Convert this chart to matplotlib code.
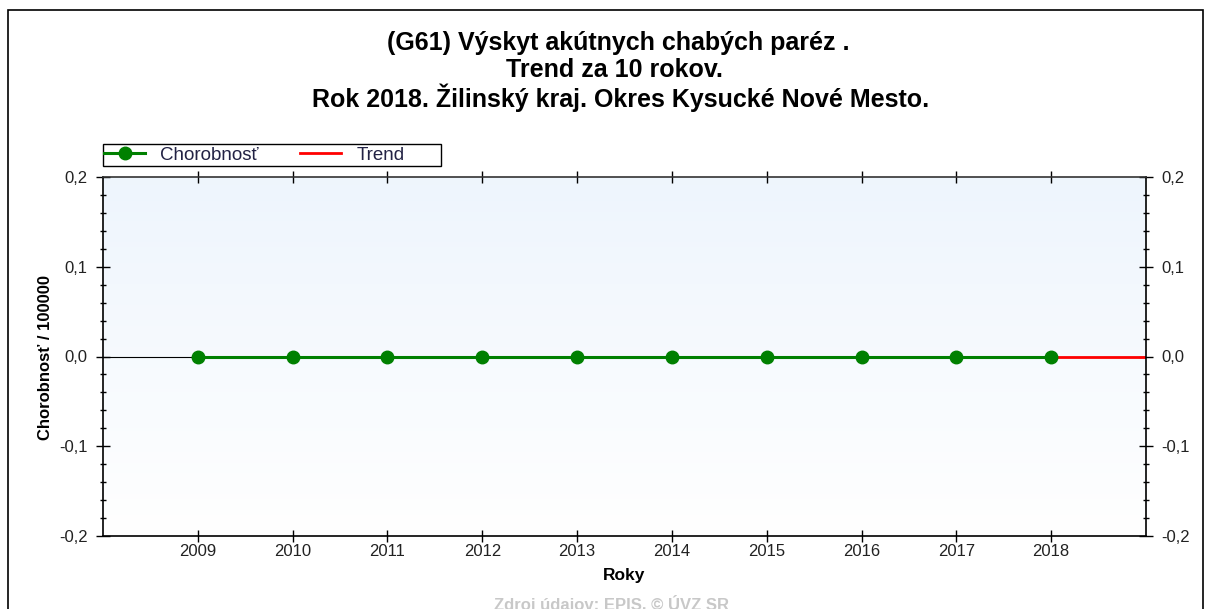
import matplotlib.pyplot as plt
import numpy as np
from matplotlib.patches import Rectangle
from matplotlib.ticker import MultipleLocator, FixedLocator

plt.rcParams['font.family'] = ['Liberation Sans', 'DejaVu Sans']

roky = [2009, 2010, 2011, 2012, 2013, 2014, 2015, 2016, 2017, 2018]
chorobnost = [0, 0, 0, 0, 0, 0, 0, 0, 0, 0]
trend_roky = [2009, 2019]
trend = [0, 0]
y_ticks = [-0.2, -0.1, 0.0, 0.1, 0.2]
y_labels = ['-0,2', '-0,1', '0,0', '0,1', '0,2']

fig = plt.figure(figsize=(12.08, 6.09), dpi=100)
W, H = 1208, 609
ax = fig.add_axes([103 / W, 1 - 536 / H, (1146 - 103) / W, (536 - 177) / H])

# gradient background, light blue at top fading to white
grad = np.linspace(0, 1, 256).reshape(-1, 1)
top = np.array([0.933, 0.961, 0.992])
bot = np.array([1.0, 1.0, 1.0])
img = bot + (top - bot) * grad
ax.imshow(img.reshape(256, 1, 3), extent=[2008, 2019, -0.2, 0.2], origin='lower',
          aspect='auto', zorder=0)

ax.axhline(0, color='black', lw=0.8, zorder=1)
ax.plot(trend_roky, trend, color='#ff0000', lw=2, zorder=2, label='Trend')
ax.plot(roky, chorobnost, color='#008000', lw=2.2, marker='o', ms=9,
        zorder=3, label='Chorobnosť')

ax.set_xlim(2008, 2019)
ax.set_ylim(-0.2, 0.2)
ax.xaxis.set_major_locator(FixedLocator(roky))
ax.set_xticklabels([str(r) for r in roky])
ax.set_yticks(y_ticks)
ax.set_yticklabels(y_labels)
ax.yaxis.set_minor_locator(MultipleLocator(0.02))
ax.tick_params(axis='x', which='major', labelsize=12, length=8, width=1,
               direction='inout', color='black', labelcolor='#222222', pad=2)
ax.tick_params(axis='x', which='major', top=True)
ax.tick_params(axis='y', which='major', labelsize=12, length=10, width=1,
               direction='inout', color='black', labelcolor='#222222', pad=6,
               right=True, labelright=True)
ax.tick_params(axis='y', which='minor', length=5, width=1, direction='inout',
               right=True)
for side in ['left', 'right', 'bottom', 'top']:
    ax.spines[side].set_linewidth(1.2)
ax.spines['top'].set_color('#333333')

ax.set_xlabel('Roky', fontsize=12.5, fontweight='bold', labelpad=6)
ax.set_ylabel('Chorobnosť / 100000', fontsize=12, fontweight='bold')
ax.yaxis.set_label_coords(53 / W, 1 - 357 / H, transform=fig.transFigure)

# legend with a wider frame drawn separately
handles, labels = ax.get_legend_handles_labels()
leg = fig.legend(handles[::-1], labels[::-1], loc='center left',
                 bbox_to_anchor=(104 / W, 1 - 155 / H), ncol=2, fontsize=13.5,
                 frameon=False, handlelength=2.2, handletextpad=0.8,
                 columnspacing=2.2, borderpad=0, borderaxespad=0)
for t in leg.get_texts():
    t.set_color('#222244')
fig.patches.append(Rectangle((103 / W, 1 - 166 / H), (441 - 103) / W, 22 / H,
                             transform=fig.transFigure, fill=False,
                             edgecolor='black', lw=1))

fig.text(618 / W, 1 - 43 / H, '(G61) Výskyt akútnych chabých paréz .',
         ha='center', va='center', fontsize=18, fontweight='bold')
fig.text(614 / W, 1 - 70 / H, 'Trend za 10 rokov.',
         ha='center', va='center', fontsize=18, fontweight='bold')
fig.text(621 / W, 1 - 98 / H, 'Rok 2018. Žilinský kraj. Okres Kysucké Nové Mesto.',
         ha='center', va='center', fontsize=18, fontweight='bold')
fig.text(612 / W, 1 - 604 / H, 'Zdroj údajov: EPIS, © ÚVZ SR',
         ha='center', va='center', fontsize=12, fontweight='bold', color='#c8c8c8')

fig.patches.append(Rectangle((8 / W, -0.05), (1203 - 8) / W, 1 - 10 / H + 0.05,
                             transform=fig.transFigure, fill=False,
                             edgecolor='black', lw=1.2))

fig.savefig('out.png', dpi=100)
